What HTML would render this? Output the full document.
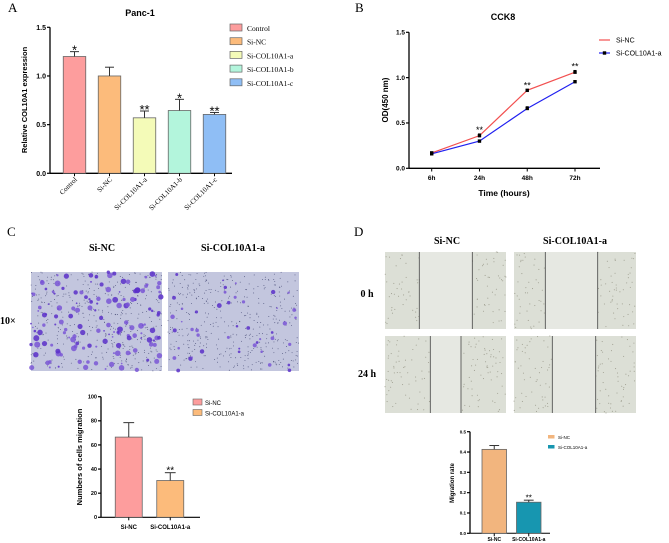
<!DOCTYPE html>
<html><head><meta charset="utf-8"><style>
html,body{margin:0;padding:0;background:#fff;}
svg{display:block;font-family:"Liberation Sans",sans-serif;}
.serif{font-family:"Liberation Serif",serif;}
</style></head><body>
<svg id="fig" width="669" height="543" viewBox="0 0 669 543" xmlns="http://www.w3.org/2000/svg">
<g id="static">
<text class="serif" x="8" y="12" font-size="13">A</text>
<text class="serif" x="355" y="12" font-size="13">B</text>
<text class="serif" x="7" y="236" font-size="13">C</text>
<text class="serif" x="354" y="236" font-size="13">D</text>
<text x="140" y="16" font-size="9" font-weight="bold" text-anchor="middle">Panc-1</text>
<text x="503" y="20" font-size="9" font-weight="bold" text-anchor="middle">CCK8</text>
<text class="serif" x="102" y="251" font-size="10" font-weight="bold" text-anchor="middle">Si-NC</text>
<text class="serif" x="233" y="251" font-size="10" font-weight="bold" text-anchor="middle">Si-COL10A1-a</text>
<text class="serif" x="0" y="324" font-size="10" font-weight="bold">10×</text>
<text class="serif" x="447" y="244" font-size="10" font-weight="bold" text-anchor="middle">Si-NC</text>
<text class="serif" x="575" y="244" font-size="10" font-weight="bold" text-anchor="middle">Si-COL10A1-a</text>
<text class="serif" x="367" y="297" font-size="10" font-weight="bold" text-anchor="middle">0 h</text>
<text class="serif" x="367" y="377" font-size="10" font-weight="bold" text-anchor="middle">24 h</text>
</g>
<g id="imgs"></g>
<g id="chartA"></g><g id="chartB"></g><g id="chartC"></g><g id="chartD"></g>
</svg>
<script>
// Panel A data
const aCategories = ["Control","Si-NC","Si-COL10A1-a","Si-COL10A1-b","Si-COL10A1-c"];
const aValues = [1.2, 1.0, 0.57, 0.645, 0.605];
const aErrors = [0.05, 0.09, 0.07, 0.115, 0.02];
const aStars = ["*","","**","*","**"];
const aTicks = [0, 0.5, 1.0, 1.5];
// Panel B data
const bTimes = ["6h","24h","48h","72h"];
const bSiNC = [0.17, 0.36, 0.86, 1.06];
const bSiCOL = [0.16, 0.30, 0.66, 0.955];
const bSiNCErr = [0.01, 0.02, 0.01, 0.02];
const bSiCOLErr = [0.01, 0.01, 0.02, 0.01];
const bStars = ["","**","**","**"];
const bTicks = [0, 0.5, 1.0, 1.5];
// Panel C data
const cCategories = ["Si-NC","Si-COL10A1-a"];
const cValues = [66.5, 30.5];
const cErrors = [12, 6.5];
const cTicks = [0,20,40,60,80,100];
// Panel D data
const dCategories = ["Si-NC","Si-COL10A1-a"];
const dValues = [0.413, 0.153];
const dErrors = [0.019, 0.01];
const dTicks = [0,0.1,0.2,0.3,0.4,0.5];

const NS="http://www.w3.org/2000/svg";
function mk(parent,tag,attrs,text){const e=document.createElementNS(NS,tag);for(const k in attrs)e.setAttribute(k,attrs[k]);if(text!==undefined)e.textContent=text;parent.appendChild(e);return e;}
function lin(d0,d1,r0,r1){return v=>r0+(v-d0)*(r1-r0)/(d1-d0);}

function yAxis(g,x,y,ticks,fmt,fs,name){
  const ax=mk(g,'line',{x1:x,y1:y(ticks[ticks.length-1]),x2:x,y2:y(ticks[0]),stroke:'#000','stroke-width':1.3});
  
  
  ticks.forEach(t=>{
    mk(g,'line',{x1:x-3,y1:y(t),x2:x,y2:y(t),stroke:'#000','stroke-width':1.2});
    const tl=mk(g,'text',{x:x-4,y:y(t)+fs*0.35,'font-size':fs,'font-weight':'bold','text-anchor':'end'},fmt(t));
    
    
  });
}
function bars(g,x0,x1,y,vals,errs,colors,bw,name,starFs,stars){
  const n=vals.length, step=(x1-x0)/n;
  vals.forEach((v,i)=>{
    const cx=x0+step*(i+0.5);
    const r=mk(g,'rect',{x:cx-bw/2,y:y(v),width:bw,height:y(0)-y(v),fill:colors[i],stroke:'#666','stroke-width':0.8});
    
    
    const ey=y(v+errs[i]);
    mk(g,'line',{x1:cx,y1:y(v),x2:cx,y2:ey,stroke:'#333','stroke-width':1});
    mk(g,'line',{x1:cx-bw*0.2,y1:ey,x2:cx+bw*0.2,y2:ey,stroke:'#333','stroke-width':1});
    mk(g,'line',{x1:cx,y1:y(0),x2:cx,y2:y(0)+3,stroke:'#000','stroke-width':1});
    if(stars&&stars[i]){const s=mk(g,'text',{x:cx,y:ey+starFs*0.35-2.5,'font-size':starFs,'text-anchor':'middle'},stars[i]);
      
      }
  });
}
// ---- Chart A
(function(){
  const g=document.getElementById('chartA');
  const y=lin(0,1.5,173.3,27.3);
  const colors=['#fd9d9d','#fcbb7b','#f4fbb8','#b3f5dc','#8fbef5'];
  yAxis(g,50,y,aTicks,t=>t.toFixed(1),7,'chart-a');
  const xa=mk(g,'line',{x1:50,y1:173.3,x2:232,y2:173.3,stroke:'#000','stroke-width':1.3});
  
  
  const n=aValues.length, step=(232-57)/n;
  bars(g,57,232,y,aValues,aErrors,colors,22.5,'chart-a',14,null);
  aValues.forEach((v,i)=>{const cx=57+step*(i+0.5);
    if(aStars[i]){const s=mk(g,'text',{x:cx,y:y(v+aErrors[i])+3,'font-size':13,'text-anchor':'middle'},aStars[i]);
      
      }
    const l=mk(g,'text',{x:cx+3,y:180,'font-size':7,'text-anchor':'end',transform:`rotate(-45 ${cx+3} 180)`,'font-family':'Liberation Serif, serif'},aCategories[i]);
    
    
  });
  const yl=mk(g,'text',{x:0,y:0,'font-size':7.5,'font-weight':'bold','text-anchor':'middle',transform:'translate(27,100) rotate(-90)'},'Relative COL10A1 expression');
  
  
  aCategories.forEach((c,i)=>{
    const yy=24+i*13.7;
    const sw=mk(g,'rect',{x:230,y:yy,width:12,height:7,fill:colors[i],stroke:'#666','stroke-width':0.7});
    
    
    const t=mk(g,'text',{x:247,y:yy+7,'font-size':7.5,'font-family':'Liberation Serif, serif'},c);
    
    
  });
})();
// ---- Chart B
(function(){
  const g=document.getElementById('chartB');
  const y=lin(0,1.5,168.3,32.3);
  const x=i=>431.7+i*(575-431.7)/(bTimes.length-1);
  yAxis(g,409,y,bTicks,t=>t.toFixed(1),6.5,'chart-b');
  const xa=mk(g,'line',{x1:409,y1:168.3,x2:600,y2:168.3,stroke:'#000','stroke-width':1.3});
  
  
  bTimes.forEach((t,i)=>{
    mk(g,'line',{x1:x(i),y1:168.3,x2:x(i),y2:171.5,stroke:'#000','stroke-width':1});
    const l=mk(g,'text',{x:x(i),y:180,'font-size':6.5,'font-weight':'bold','text-anchor':'middle'},t);
    
    
  });
  function series(vals,errs,color,name){
    const p=mk(g,'polyline',{points:vals.map((v,i)=>x(i)+','+y(v)).join(' '),fill:'none',stroke:color,'stroke-width':1.2});
    
    
    vals.forEach((v,i)=>{
      mk(g,'line',{x1:x(i),y1:y(v),x2:x(i),y2:y(v+errs[i]),stroke:'#000','stroke-width':0.8});
      mk(g,'line',{x1:x(i)-1.5,y1:y(v+errs[i]),x2:x(i)+1.5,y2:y(v+errs[i]),stroke:'#000','stroke-width':0.8});
      const m=mk(g,'rect',{x:x(i)-1.7,y:y(v)-1.7,width:3.4,height:3.4,fill:'#000'});
      
      
    });
  }
  series(bSiNC,bSiNCErr,'#f25050','chart-b-si-nc');
  series(bSiCOL,bSiCOLErr,'#2020f0','chart-b-si-col10a1-a');
  bStars.forEach((s,i)=>{if(s){const t=mk(g,'text',{x:x(i),y:y(bSiNC[i]+bSiNCErr[i])-1,'font-size':9,'text-anchor':'middle'},s);
    
    }});
  const xt=mk(g,'text',{x:504,y:196,'font-size':8.5,'font-weight':'bold','text-anchor':'middle'},'Time (hours)');
  
  
  const yt=mk(g,'text',{x:0,y:0,'font-size':8,'font-weight':'bold','text-anchor':'middle',transform:'translate(388,100) rotate(-90)'},'OD(450 nm)');
  
  
  [['Si-NC','#f25050',false],['Si-COL10A1-a','#2020f0',true]].forEach((e,i)=>{
    const yy=40+i*13;
    mk(g,'line',{x1:599,y1:yy,x2:610,y2:yy,stroke:e[1],'stroke-width':1.2});
    if(e[2])mk(g,'rect',{x:602.8,y:yy-1.7,width:3.4,height:3.4,fill:'#000'});
    const t=mk(g,'text',{x:616,y:yy+2.5,'font-size':7},e[0]);
    
    
  });
})();
// ---- Chart C
(function(){
  const g=document.getElementById('chartC');
  const y=lin(0,100,517.3,396.7);
  const colors=['#fd9d9d','#fcbb7b'];
  yAxis(g,101,y,cTicks,t=>String(t),5.5,'chart-c');
  const xa=mk(g,'line',{x1:101,y1:517.3,x2:200,y2:517.3,stroke:'#000','stroke-width':1.2});
  
  
  bars(g,108,191,y,cValues,cErrors,colors,27,'chart-c',10,['','**']);
  cCategories.forEach((c,i)=>{const cx=108+(191-108)/2*(i+0.5);
    const t=mk(g,'text',{x:cx,y:529,'font-size':6,'font-weight':'bold','text-anchor':'middle'},c);
    
    
    const sw=mk(g,'rect',{x:193,y:399+i*10.5,width:9,height:6,fill:colors[i],stroke:'#666','stroke-width':0.6});
    
    
    const lt=mk(g,'text',{x:205,y:405+i*10.5,'font-size':6},c);
    
    
  });
  const yt=mk(g,'text',{x:0,y:0,'font-size':7.5,'font-weight':'bold','text-anchor':'middle',transform:'translate(82,457) rotate(-90)'},'Numbers of cells migration');
  
  
})();
// ---- Chart D
(function(){
  const g=document.getElementById('chartD');
  const y=lin(0,0.5,533.3,431.7);
  const colors=['#f2b57e','#1796b0'];
  yAxis(g,470,y,dTicks,t=>t.toFixed(1),4.5,'chart-d');
  const xa=mk(g,'line',{x1:470,y1:533.3,x2:550,y2:533.3,stroke:'#000','stroke-width':1});
  
  
  bars(g,477,546,y,dValues,dErrors,colors,24.5,'chart-d',8,['','**']);
  dCategories.forEach((c,i)=>{const cx=477+(546-477)/2*(i+0.5);
    const t=mk(g,'text',{x:cx,y:541,'font-size':5,'font-weight':'bold','text-anchor':'middle'},c);
    
    
    const sw=mk(g,'rect',{x:548,y:435+i*10,width:6.5,height:3.5,fill:colors[i]});
    
    
    const lt=mk(g,'text',{x:558,y:439+i*10,'font-size':4.5},c);
    
    
  });
  const yt=mk(g,'text',{x:0,y:0,'font-size':6,'font-weight':'bold','text-anchor':'middle',transform:'translate(454,483) rotate(-90)'},'Migration rate');
  
  
})();
// ---- Micrograph images (decorative)
(function(){
  const g=document.getElementById('imgs');
  let seed=7;function rnd(){seed=(seed*16807)%2147483647;return seed/2147483647;}
  function transwell(x,y,w,h,n,rmax,name){
    const r=mk(g,'rect',{x:x,y:y,width:w,height:h,fill:'#c3c6de'});
    
    
    for(let i=0;i<400;i++){mk(g,'circle',{cx:x+rnd()*w,cy:y+rnd()*h,r:0.45,fill:'#4a4e78'});}
    for(let i=0;i<n;i++){mk(g,'circle',{cx:x+rnd()*w,cy:y+rnd()*h,r:0.8+rnd()*rmax,fill:rnd()<0.5?'#5a2fc9':'#7a56d6','fill-opacity':0.85});}
  }
  transwell(31,272,131,99,150,2.2,'transwell-image-si-nc');
  transwell(168,272,131,99,45,1.6,'transwell-image-si-col10a1-a');
  function scratch(x,y,w,h,l1,l2,name){
    const r=mk(g,'rect',{x:x,y:y,width:w,height:h,fill:'#e6e8e2'});
    
    
    mk(g,'rect',{x:x,y:y,width:l1-x,height:h,fill:'#dcdfd6'});
    mk(g,'rect',{x:l2,y:y,width:x+w-l2,height:h,fill:'#dcdfd6'});
    for(let i=0;i<160;i++){let cx=x+rnd()*w;if(cx>l1&&cx<l2)continue;mk(g,'circle',{cx:cx,cy:y+rnd()*h,r:0.55,fill:'#a0a092'});}
    mk(g,'line',{x1:l1,y1:y,x2:l1,y2:y+h,stroke:'#444','stroke-width':0.8});
    mk(g,'line',{x1:l2,y1:y,x2:l2,y2:y+h,stroke:'#444','stroke-width':0.8});
  }
  scratch(385,252,121,77,419.3,472.3,'scratch-image-si-nc-0h');
  scratch(514,252,122,77,545.3,597.7,'scratch-image-si-col10a1-a-0h');
  scratch(385,336,121,77,430.3,461,'scratch-image-si-nc-24h');
  scratch(514,336,122,77,552.3,595.7,'scratch-image-si-col10a1-a-24h');
})();
</script>
</body></html>
